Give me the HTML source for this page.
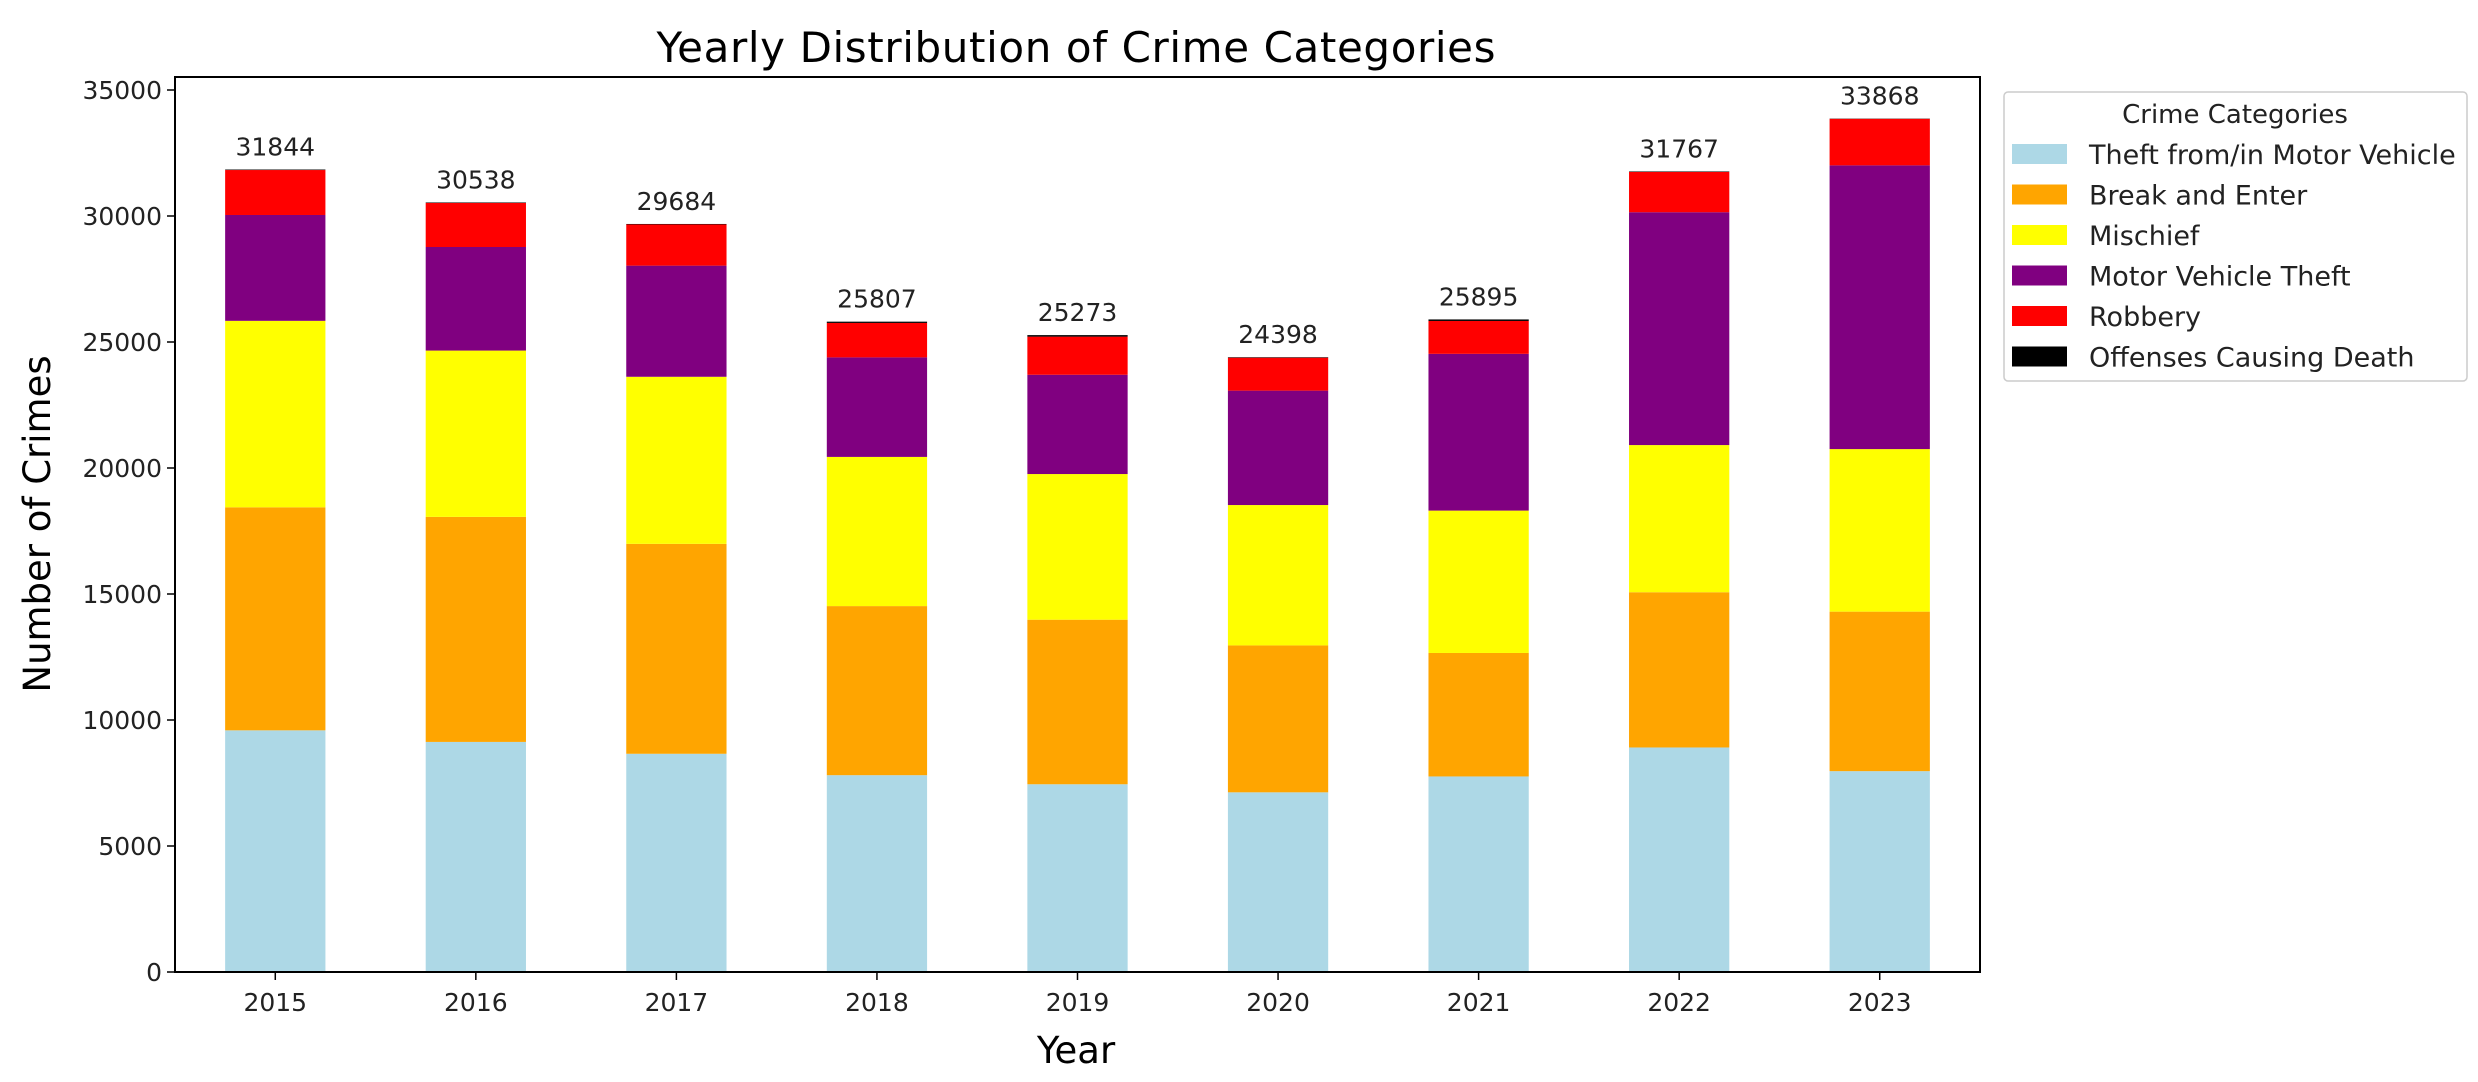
<!DOCTYPE html>
<html><head><meta charset="utf-8"><style>
html,body{margin:0;padding:0;background:#fff}
svg{display:block;font-family:"DejaVu Sans","Liberation Sans",sans-serif}
</style></head><body>
<svg id="chart" width="2478" height="1082" viewBox="0 0 2478 1082" xmlns="http://www.w3.org/2000/svg">
<rect width="2478" height="1082" fill="#fff"/>
<text x="1076" y="62" font-size="42" text-anchor="middle" textLength="839" fill="#000">Yearly Distribution of Crime Categories</text>
<g id="plot"></g>
<text x="1076" y="1063" font-size="37" text-anchor="middle" fill="#000">Year</text>
<text transform="translate(50,524) rotate(-90)" font-size="37" text-anchor="middle" fill="#000">Number of Crimes</text>
<g id="legend"></g>
</svg>
<script>
const years = ["2015","2016","2017","2018","2019","2020","2021","2022","2023"];
const categories = ["Theft from/in Motor Vehicle","Break and Enter","Mischief","Motor Vehicle Theft","Robbery","Offenses Causing Death"];
const colors = ["#add8e6","#ffa500","#ffff00","#800080","#ff0000","#000000"];
const theft = [9590,9130,8660,7810,7450,7130,7760,8910,7970];
const breakEnter = [8850,8930,8330,6710,6530,5830,4900,6160,6330];
const mischief = [7400,6600,6630,5920,5780,5570,5650,5840,6450];
const mvTheft = [4200,4110,4410,3950,3940,4540,6220,9240,11260];
const robbery = [1784,1748,1634,1367,1513,1308,1305,1597,1848];
const deaths = [20,20,20,50,60,20,60,20,10];
const yTicks = [0,5000,10000,15000,20000,25000,30000,35000];

const NS = "http://www.w3.org/2000/svg";
const L = 175, R = 1980, T = 77, B = 972;
const yPer = (B - 90) / 35000;
const y = v => B - v * yPer;
const unit = (R - L) / 9;
const xc = i => L + (i + 0.5) * unit;
const bw = unit * 0.5;
const plot = document.getElementById('plot');
function mk(tag, attrs, parent) {
  const e = document.createElementNS(NS, tag);
  for (const k in attrs) e.setAttribute(k, attrs[k]);
  parent.appendChild(e);
  return e;
}
const series = [theft, breakEnter, mischief, mvTheft, robbery, deaths];
const segNames = ['theft','break-enter','mischief','mv-theft','robbery','deaths'];
years.forEach((yr, i) => {
  let base = 0;
  series.forEach((s, k) => {
    const r = mk('rect', {x: xc(i) - bw / 2, y: y(base + s[i]), width: bw, height: Math.max(s[i] * yPer, 0), fill: colors[k]}, plot);
    
    
    base += s[i];
  });
  const t = mk('text', {x: xc(i), y: y(base) - 14, 'font-size': 25, 'text-anchor': 'middle', fill: '#222'}, plot);
  t.textContent = Math.round(base);
  
  
  const tk = mk('line', {x1: xc(i), x2: xc(i), y1: B, y2: B + 8, stroke: '#000', 'stroke-width': 1.5}, plot);
  
  
  const tl = mk('text', {x: xc(i), y: B + 39, 'font-size': 25, 'text-anchor': 'middle', fill: '#222'}, plot);
  tl.textContent = yr;
  
  
});
yTicks.forEach(v => {
  const tk = mk('line', {x1: L - 8, x2: L, y1: y(v), y2: y(v), stroke: '#000', 'stroke-width': 1.5}, plot);
  
  
  const tl = mk('text', {x: L - 13, y: y(v) + 9, 'font-size': 25, 'text-anchor': 'end', fill: '#222'}, plot);
  tl.textContent = v;
  
  
});
const frame = mk('rect', {x: L, y: T, width: R - L, height: B - T, fill: 'none', stroke: '#000', 'stroke-width': 2}, plot);



const lg = document.getElementById('legend');
const box = mk('rect', {x: 2004, y: 92, width: 463, height: 289, rx: 4, fill: '#fff', stroke: '#ccc', 'stroke-width': 1.5}, lg);


const lt = mk('text', {x: 2235, y: 123, 'font-size': 26, 'text-anchor': 'middle', fill: '#222'}, lg);
lt.textContent = 'Crime Categories';


categories.forEach((c, k) => {
  const cy = 154 + k * 40.5;
  const p = mk('rect', {x: 2012, y: cy - 10, width: 55, height: 20, fill: colors[k]}, lg);
  
  
  const t = mk('text', {x: 2089, y: cy + 10, 'font-size': 27, fill: '#222'}, lg);
  t.textContent = c;
  
  
});
</script>
</body></html>
